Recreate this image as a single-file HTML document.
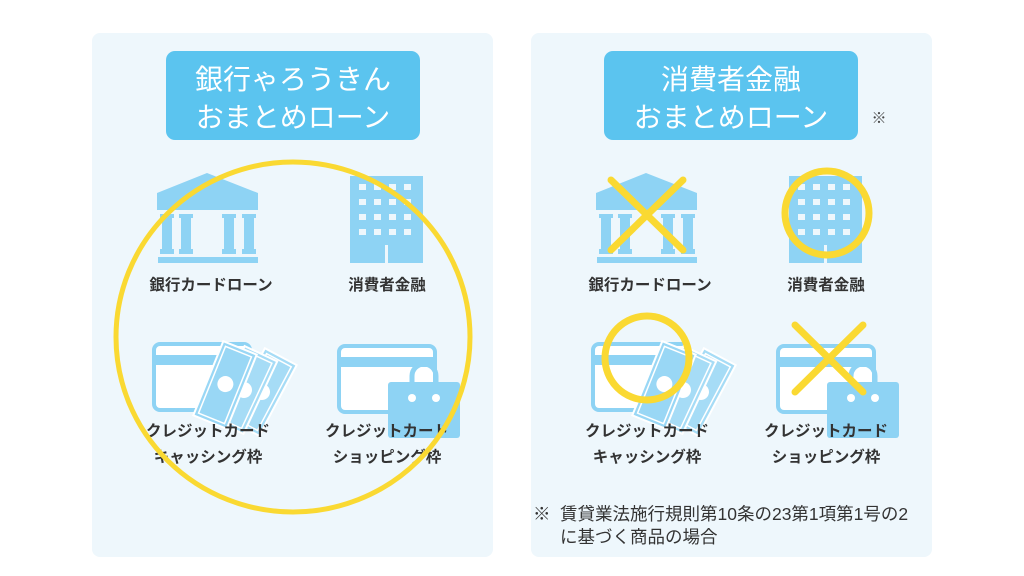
<!DOCTYPE html>
<html><head><meta charset="utf-8"><style>
html,body{margin:0;padding:0;background:#fff;}
svg{display:block}
text{font-family:"Liberation Sans","Noto Sans CJK JP",sans-serif;}
</style></head><body>
<svg width="1024" height="576" viewBox="0 0 1024 576" xmlns="http://www.w3.org/2000/svg">
<defs>
<g id="bank">
  <polygon points="207,173 157,193 157,210 258,210 258,193" fill="#8ed3f4"/>
  <g fill="#8ed3f4">
    <rect x="160" y="214" width="14" height="4"/><rect x="162" y="214" width="10" height="40"/><rect x="160" y="249" width="14" height="5"/>
    <rect x="179" y="214" width="14" height="4"/><rect x="181" y="214" width="10" height="40"/><rect x="179" y="249" width="14" height="5"/>
    <rect x="222" y="214" width="14" height="4"/><rect x="224" y="214" width="10" height="40"/><rect x="222" y="249" width="14" height="5"/>
    <rect x="242" y="214" width="14" height="4"/><rect x="244" y="214" width="10" height="40"/><rect x="242" y="249" width="14" height="5"/>
  </g>
  <rect x="158" y="257" width="100" height="6" fill="#8ed3f4"/>
</g>
<g id="bldg">
  <rect x="350" y="176" width="73" height="87" fill="#8ed3f4"/>
  <g fill="#eef7fc">
    <rect x="359" y="184" width="7" height="6"/><rect x="374" y="184" width="7" height="6"/><rect x="389" y="184" width="7" height="6"/><rect x="404" y="184" width="7" height="6"/>
    <rect x="359" y="199" width="7" height="6"/><rect x="374" y="199" width="7" height="6"/><rect x="389" y="199" width="7" height="6"/><rect x="404" y="199" width="7" height="6"/>
    <rect x="359" y="214" width="7" height="6"/><rect x="374" y="214" width="7" height="6"/><rect x="389" y="214" width="7" height="6"/><rect x="404" y="214" width="7" height="6"/>
    <rect x="359" y="229" width="7" height="6"/><rect x="374" y="229" width="7" height="6"/><rect x="389" y="229" width="7" height="6"/><rect x="404" y="229" width="7" height="6"/>
    <rect x="385" y="245" width="3" height="18"/>
  </g>
</g>
<g id="cash">
  <rect x="154" y="344" width="96" height="66" rx="6" fill="#fff" stroke="#8ed3f4" stroke-width="4"/>
  <rect x="154" y="355" width="96" height="10" fill="#8ed3f4"/>
  <g transform="rotate(28 262 392)"><rect x="244" y="352" width="36" height="80" fill="#a6dcf6" stroke="#fff" stroke-width="2"/><rect x="248" y="356" width="28" height="72" fill="none" stroke="#fff" stroke-width="1.5"/><circle cx="262" cy="392" r="8" fill="#fff"/></g>
  <g transform="rotate(25 244 390)"><rect x="226" y="350" width="36" height="80" fill="#a6dcf6" stroke="#fff" stroke-width="2"/><rect x="230" y="354" width="28" height="72" fill="none" stroke="#fff" stroke-width="1.5"/><circle cx="244" cy="390" r="8" fill="#fff"/></g>
  <g transform="rotate(22 225 385)"><rect x="207" y="345" width="36" height="80" fill="#99d7f5" stroke="#fff" stroke-width="2"/><rect x="211" y="349" width="28" height="72" fill="none" stroke="#fff" stroke-width="1.5"/><circle cx="225" cy="384" r="8" fill="#fff"/></g>
</g>
<g id="shop">
  <rect x="339" y="346" width="96" height="66" rx="6" fill="#fff" stroke="#8ed3f4" stroke-width="4"/>
  <rect x="339" y="357" width="96" height="10" fill="#8ed3f4"/>
  <path d="M412,384 v-8 a12,12 0 0 1 24,0 v8" fill="none" stroke="#8ed3f4" stroke-width="5"/>
  <rect x="388" y="382" width="72" height="56" rx="3" fill="#8ed3f4"/>
  <circle cx="412" cy="398" r="4" fill="#fff"/><circle cx="436" cy="398" r="4" fill="#fff"/>
</g>
</defs>

<rect x="92" y="33" width="401" height="524" rx="8" fill="#eef7fc"/>
<rect x="531" y="33" width="401" height="524" rx="8" fill="#eef7fc"/>

<rect x="166" y="51" width="254" height="89" rx="9" fill="#5bc4ef"/>
<text x="293" y="89" font-size="28" fill="#fff" text-anchor="middle">銀行ゃろうきん</text>
<text x="293" y="127" font-size="28" fill="#fff" text-anchor="middle">おまとめローン</text>
<rect x="604" y="51" width="254" height="89" rx="9" fill="#5bc4ef"/>
<text x="731" y="89" font-size="28" fill="#fff" text-anchor="middle">消費者金融</text>
<text x="731" y="127" font-size="28" fill="#fff" text-anchor="middle">おまとめローン</text>
<text x="879" y="123" font-size="15" fill="#444" text-anchor="middle">※</text>

<use href="#bank"/><use href="#bldg"/><use href="#cash"/><use href="#shop"/>
<g font-size="15.5" font-weight="bold" fill="#333" text-anchor="middle">
<text x="211" y="290">銀行カードローン</text>
<text x="387" y="290">消費者金融</text>
<text x="208" y="436">クレジットカード</text>
<text x="208" y="462">キャッシング枠</text>
<text x="387" y="436">クレジットカード</text>
<text x="387" y="462">ショッピング枠</text>
</g>
<ellipse cx="293" cy="337" rx="177" ry="175" fill="none" stroke="#fad932" stroke-width="5"/>

<g transform="translate(439,0)">
<use href="#bank"/><use href="#bldg"/><use href="#cash"/><use href="#shop"/>
<g font-size="15.5" font-weight="bold" fill="#333" text-anchor="middle">
<text x="211" y="290">銀行カードローン</text>
<text x="387" y="290">消費者金融</text>
<text x="208" y="436">クレジットカード</text>
<text x="208" y="462">キャッシング枠</text>
<text x="387" y="436">クレジットカード</text>
<text x="387" y="462">ショッピング枠</text>
</g>
</g>
<g stroke="#fad932" stroke-width="7" stroke-linecap="round" fill="none">
<line x1="611" y1="180" x2="683" y2="250"/><line x1="683" y1="180" x2="611" y2="250"/>
<circle cx="827" cy="213" r="42"/>
<circle cx="647" cy="358" r="42"/>
<line x1="795" y1="325" x2="863" y2="392"/><line x1="863" y1="325" x2="795" y2="392"/>
</g>

<g font-size="17.5" fill="#333">
<text x="533" y="520">※</text>
<text x="560" y="520">賃貸業法施行規則第10条の23第1項第1号の2</text>
<text x="560" y="543">に基づく商品の場合</text>
</g>
</svg>
</body></html>
